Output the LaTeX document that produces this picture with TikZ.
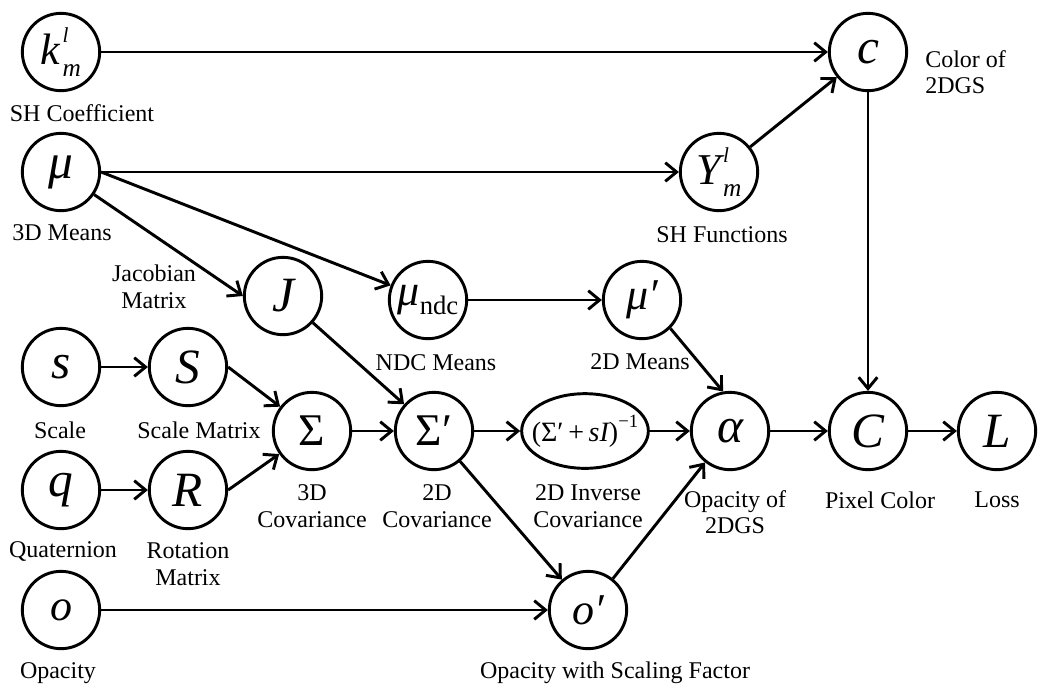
\documentclass[tikz,border=0pt]{standalone}
\usepackage{fontspec}
\setmainfont{Liberation Serif}
\usetikzlibrary{arrows.meta,shapes.geometric}
\newcommand{\supsubx}[3]{{\itshape #1}\kern0.05em\makebox[0pt][l]{\raisebox{0.5em}{\fontsize{16}{16}\selectfont\itshape #2}}\raisebox{-0.28em}{\fontsize{19}{19}\selectfont\itshape #3}}
\begin{document}
\begin{tikzpicture}[x=0.75pt,y=-0.75pt,
  cnode/.style={circle,draw,line width=2.2pt,minimum size=58pt,inner sep=0pt,font=\fontsize{37}{42}\selectfont},
  mid/.style={font=\fontsize{33}{38}\selectfont},
  enode/.style={ellipse,draw,line width=2.2pt,minimum width=95pt,minimum height=56pt,inner sep=0pt},
  etext/.style={font=\fontsize{21}{25}\selectfont,inner sep=0pt},
  lab/.style={font=\fontsize{18}{20}\selectfont,align=center,inner sep=0pt},
  arr/.style={line width=2.2pt,-{Straight Barb[length=8.5pt,width=14pt]}}]
\useasboundingbox (0,0) rectangle (1048,694);
% nodes
\node[cnode,mid] (kml) at (61,52) {\supsubx{k}{l}{m}};
\node[cnode] (c) at (868,52) {\itshape c};
\node[cnode] (mu) at (61,172) {\itshape μ};
\node[cnode,mid] (Y) at (719,172) {\supsubx{Y}{l}{m}};
\node[cnode] (J) at (283,296) {\itshape J};
\node[cnode,mid] (ndc) at (428,300) {{\itshape μ}\raisebox{-0.22em}{\fontsize{20}{20}\selectfont ndc}};
\node[cnode,mid] (mup) at (642,300) {\itshape μ′};
\node[cnode] (s) at (61,367) {\itshape s};
\node[cnode] (S) at (188,367) {\itshape S};
\node[cnode,font=\fontsize{34}{40}\selectfont] (Sig) at (312,431) {Σ};
\node[cnode,font=\fontsize{34}{40}\selectfont] (Sigp) at (434,431) {Σ′};
\node[enode] (inv) at (585,431) {};
\node[etext] (invt) at (inv.center) {(Σ′\,+\,{\itshape sI})\raisebox{0.5em}{\fontsize{14}{14}\selectfont −1}};
\node[cnode] (alpha) at (730,431) {\itshape α};
\node[cnode] (C) at (868,431) {\itshape C};
\node[cnode] (L) at (997,431) {\itshape L};
\node[cnode] (q) at (61,490) {\itshape q};
\node[cnode] (R) at (188,490) {\itshape R};
\node[cnode,mid] (o) at (61,610) {\itshape o};
\node[cnode,mid] (op) at (588,610) {\itshape o′};
% labels
\node[lab] (lkml) at (82,113) {SH Coefficient};
\node[lab] (lmu) at (62,233) {3D Means};
\node[lab] (lJ) at (154,287) {Jacobian\\Matrix};
\node[lab] (lndc) at (436,363) {NDC Means};
\node[lab] (lmup) at (640,362) {2D Means};
\node[lab] (lY) at (722,235) {SH Functions};
\node[lab,anchor=west,align=left] (lc) at (925,72) {Color of\\2DGS};
\node[lab] (ls) at (60,430) {Scale};
\node[lab] (lS) at (199,430) {Scale Matrix};
\node[lab] (lSig) at (312,506) {3D\\Covariance};
\node[lab] (lSigp) at (437,506) {2D\\Covariance};
\node[lab] (linv) at (588,506) {2D Inverse\\Covariance};
\node[lab] (lalpha) at (735,512) {Opacity of\\2DGS};
\node[lab] (lC) at (880,500) {Pixel Color};
\node[lab] (lL) at (997,500) {Loss};
\node[lab] (lq) at (63,551) {Quaternion};
\node[lab] (lR) at (188,564) {Rotation\\Matrix};
\node[lab] (lo) at (58,673) {Opacity};
\node[lab] (lop) at (615,673) {Opacity with Scaling Factor};
% edges
\draw[arr] (kml) -- (c);
\draw[arr] (mu) -- (Y);
\draw[arr] (Y) -- (c);
\draw[arr] (mu) -- (J.west);
\draw[arr] (mu.east) -- (ndc);
\draw[arr] (ndc) -- (mup);
\draw[arr] (J) -- (Sigp);
\draw[arr] (s) -- (S);
\draw[arr] (q) -- (R);
\draw[arr] (S.east) -- (Sig);
\draw[arr] (R.east) -- (Sig);
\draw[arr] (Sig) -- (Sigp);
\draw[arr] (Sigp) -- (inv);
\draw[arr] (Sigp) -- (op);
\draw[arr] (inv) -- (alpha);
\draw[arr] (mup.-45) -- (alpha.100);
\draw[arr] (op) -- (alpha);
\draw[arr] (o) -- (op);
\draw[arr] (c) -- (C);
\draw[arr] (alpha) -- (C);
\draw[arr] (C) -- (L);
\end{tikzpicture}
\end{document}
